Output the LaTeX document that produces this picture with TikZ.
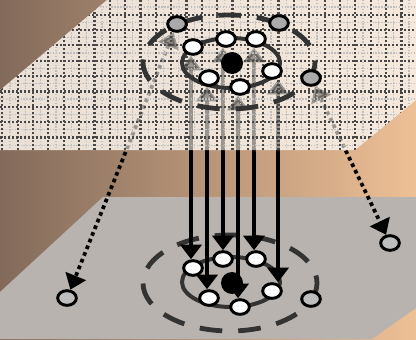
\documentclass[tikz,border=0pt]{standalone}
\usetikzlibrary{arrows.meta,shapes.geometric}
\pgfdeclarelayer{bg}
\pgfsetlayers{bg,main}
\definecolor{bgbrown}{RGB}{130,106,90}
\definecolor{bgpeach}{RGB}{238,192,150}
\definecolor{gridcream}{RGB}{246,237,228}
\definecolor{planegray}{RGB}{184,179,174}
\definecolor{ringgray}{RGB}{51,51,51}
\definecolor{sitegray}{RGB}{170,170,170}
\definecolor{holegray}{RGB}{190,190,190}

\tikzset{every picture/.style={line width=0.75pt}}
\tikzset{
  site/.style={ellipse,draw=black,line width=2.2pt,fill=white,minimum width=14pt,minimum height=11pt,inner sep=0pt},
  vacancy/.style={site,fill=sitegray},
  hole/.style={site,fill=holegray},
  core/.style={circle,fill=black,minimum size=16.5pt,inner sep=0pt},
  dashring/.style={draw=ringgray,line width=3.6pt,dash pattern=on 17pt off 12pt},
  orbit/.style={draw=ringgray,line width=3pt},
  proj/.style={line width=2.6pt,{Triangle[width=16pt,length=11pt]}-{Triangle[width=16pt,length=11pt]}},
  hop/.style={proj,line width=2.8pt,dash pattern=on 2.8pt off 2.6pt},
  gridline/.style={draw=black!72,line width=1.7pt,dash pattern=on 1.5pt off 1.5pt},
  finegrid/.style={draw=black!25,line width=0.9pt,dash pattern=on 1.1pt off 1.1pt}
}
% arrows between the two layers
\newcommand{\layerlinks}{%
  \draw[proj] ([xshift=-1.5pt]a1.south) -- ([xshift=-1.5pt]b1.north);
  \draw[proj] ([xshift=-1.5pt]a5.south) -- ([xshift=-1.5pt]b5.north);
  \draw[proj] ([xshift=-2.25pt]a2.south) -- (b2.north);
  \draw[proj] ([xshift=-1.5pt]a6.south) -- ([xshift=-1.5pt]b6.north);
  \draw[proj] ([xshift=-1.5pt]a3.south) -- ([xshift=-1.5pt]b3.north);
  \draw[proj] ([xshift=4.5pt]a4.south) -- ([xshift=4.5pt]b4.north);
  \draw[hop] (gL) -- (hL);
  \draw[hop] (gS) -- (hR);
}

\begin{document}
\begin{tikzpicture}[x=0.75pt,y=0.75pt,yscale=-1,xscale=1]
\useasboundingbox (0,0) rectangle (416,339);

%Sites: upper layer
\node[core] (a0) at (232,63) {};
\node[site] (a1) at (193,47) {};
\node[site] (a2) at (226,39) {};
\node[site] (a3) at (256,39) {};
\node[site] (a4) at (272,71) {};
\node[site] (a5) at (209,78) {};
\node[site] (a6) at (240,87) {};
\node[vacancy] (gL) at (177,24) {};
\node[vacancy] (gR) at (279,23) {};
\node[vacancy] (gS) at (311,78) {};

%Sites: lower layer
\node[core] (b0) at (232,283) {};
\node[site] (b1) at (193,268) {};
\node[site] (b2) at (223,259) {};
\node[site] (b3) at (256,259) {};
\node[site] (b4) at (272,291) {};
\node[site] (b5) at (209,298) {};
\node[site] (b6) at (240,307) {};
\node[hole] (hS) at (311,299) {};
\node[hole] (hL) at (67,298) {};
\node[hole] (hR) at (390,243) {};

\begin{pgfonlayer}{bg}
\clip (0,0) rectangle (416,339);
%Shape: Background
\shade[left color=bgbrown,right color=bgpeach] (0,0) rectangle (416,339);
%Shape: Lower plane
\fill[planegray] (103,197) -- (573,197) -- (372,339) -- (-51,339) -- cycle;
%Shape: Lower rings
\draw[dashring] (230,283) ellipse [x radius=87,y radius=48];
\draw[orbit] (231,282) ellipse [x radius=49,y radius=25];

%Straight Lines: projections and hops
\layerlinks

%Shape: Upper plane
\fill[gridcream,fill opacity=0.9] (107,0) -- (538,0) -- (355,150) -- (-71,150) -- cycle;
\begin{scope}
\clip (107,0) -- (538,0) -- (355,150) -- (-71,150) -- cycle;
\begin{scope}[opacity=0.3]
\layerlinks
\end{scope}
\foreach \k in {0,...,27} \draw[finegrid] (9.975+15.35*\k,0) -- (9.975+15.35*\k,150);
\foreach \k in {0,...,10} \draw[finegrid] (0,6.975+15.35*\k) -- (416,6.975+15.35*\k);
\foreach \k in {0,...,27} \draw[gridline] (2.3+15.35*\k,0) -- (2.3+15.35*\k,150);
\foreach \k in {0,...,10} \draw[gridline] (0,-0.7+15.35*\k) -- (416,-0.7+15.35*\k);
\end{scope}
%Shape: Upper rings
\draw[dashring] (229,62) ellipse [x radius=86,y radius=47];
\draw[orbit] (231,63) ellipse [x radius=49,y radius=25];
\end{pgfonlayer}

\end{tikzpicture}
\end{document}
